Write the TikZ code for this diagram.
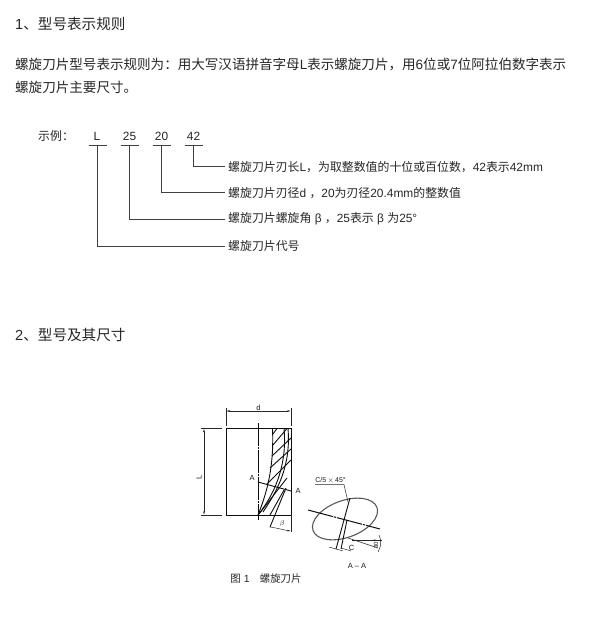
\documentclass[tikz,border=0pt]{standalone}
\usepackage{fontspec}
\setmainfont{Liberation Sans}
\newfontfamily\cjk{Noto Sans CJK SC}
\newcommand{\zh}[1]{{\cjk #1}}
\newcommand{\fwc}{{\cjk\char"FF0C\relax}}
\newcommand{\fwk}{{\cjk\char"FF1A\relax}}
\usetikzlibrary{arrows.meta}
\tikzset{
  heading/.style={anchor=west,inner sep=0pt,font=\fontsize{14.6}{16}\selectfont,text=black!85},
  bodytxt/.style={anchor=west,inner sep=0pt,font=\fontsize{13.55}{16}\selectfont,text=black!85},
  smalltxt/.style={anchor=west,inner sep=0pt,font=\fontsize{11.9}{13}\selectfont,text=black!85},
  tiny/.style={inner sep=0pt,font=\fontsize{7.5}{8}\selectfont,text=black!90},
  leader/.style={line width=1pt,draw=black!75},
  fine/.style={line width=0.5pt,draw=black!85},
  outline/.style={line width=1pt,draw=black!95},
  hatchline/.style={line width=0.9pt,draw=black!95},
  dim/.style={fine,{Latex[length=3.5pt,width=1.8pt]}-{Latex[length=3.5pt,width=1.8pt]}}
}
\begin{document}
\begin{tikzpicture}[x=1pt,y=-1pt]
\useasboundingbox (0,0) rectangle (609,620);
\node[heading] (h1) at (15,24) {1\zh{、型号表示规则}};
\node[bodytxt] (p1) at (15,64) {\zh{螺旋刀片型号表示规则为}\fwk\zh{用大写汉语拼音字母}L\zh{表示螺旋刀片}\fwc\zh{用}6\zh{位或}7\zh{位阿拉伯数字表示}};
\node[bodytxt] (p2) at (15,87) {\zh{螺旋刀片主要尺寸。}};
\node[smalltxt] (ex) at (38,136) {\zh{示例}\fwk};
\node[smalltxt,anchor=center] (cL) at (97,136) {L};
\node[smalltxt,anchor=center] (c25) at (129.5,136) {25};
\node[smalltxt,anchor=center] (c20) at (161.5,136) {20};
\node[smalltxt,anchor=center] (c42) at (193.5,136) {42};
\node[smalltxt] (t42) at (228,167) {\zh{螺旋刀片刃长}L\fwc\zh{为取整数值的十位或百位数}\fwc 42\zh{表示}42mm};
\node[smalltxt] (t20) at (228,193) {\zh{螺旋刀片刃径}d \fwc 20\zh{为刃径}20.4mm\zh{的整数值}};
\node[smalltxt] (t25) at (228,219) {\zh{螺旋刀片螺旋角} β \fwc 25\zh{表示} β \zh{为}25°};
\node[smalltxt] (tL) at (228,246) {\zh{螺旋刀片代号}};
\coordinate (b42) at (193.5,146); \coordinate (b20) at (161.5,146);
\coordinate (b25) at (129.5,146); \coordinate (bL) at (97.5,146);
\foreach \c in {b42,b20,b25,bL} \draw[leader] ([xshift=-9pt]\c) -- ([xshift=9pt]\c);
\draw[leader] (b42) |- ([xshift=-3pt]t42.west);
\draw[leader] (b20) |- ([xshift=-3pt]t20.west);
\draw[leader] (b25) |- ([xshift=-3pt]t25.west);
\draw[leader] (bL) |- ([xshift=-3pt]tL.west);
\node[heading] (h2) at (15,335) {2\zh{、型号及其尺寸}};
% side view
\draw[outline] (226,428.5) rectangle (291,515);
\draw[outline,dash pattern=on 23pt off 1pt on 2pt off 1pt] (258,423) -- (258,520);
\draw[dim] (226,411) -- (291,411);
\node[tiny] (dd) at (258.5,408) {d};
\draw[fine] (226,408) -- (226,426) (291,408) -- (291,426);
\draw[dim] (204,428.5) -- (204,515);
\draw[fine] (201,428.5) -- (222,428.5) (201,515) -- (222,515);
\node[tiny,rotate=90] (dL) at (199,477) {L};
% flute
\draw[hatchline] (258,515) .. controls (268,490) and (274,465) .. (272.5,428.5);
\draw[hatchline] (258,515) .. controls (278,490) and (287,460) .. (284,428.5);
\draw[hatchline] (263,512) .. controls (278,490) and (291,465) .. (288,428.5);
\draw[hatchline] (277,428.5) -- (273,434);
\draw[hatchline] (287,428.5) -- (273,445);
\draw[hatchline] (291,438) -- (272,456);
\draw[hatchline] (291,449) -- (270,468);
\draw[hatchline] (291,460) -- (267,484);
\draw[hatchline] (287,478) -- (259,514);
\draw[hatchline] (284,490) -- (270,515);
\draw[hatchline] (286,488) -- (270,527);
\draw[hatchline] (258,482) -- (291,491);
\node[tiny] (A1) at (252,478) {A};
\node[tiny] (A2) at (298,491) {A};
% beta
\draw[fine] (291,515) -- (291,532);
\draw[fine,-{Latex[length=3.5pt,width=1.8pt]}] (270,527) .. controls (277,528) and (284,530) .. (291,531);
\node[tiny] (beta) at (282,523.5) {$\beta$};
% section
\draw[line width=1.1pt,draw=black!65,rotate around={20:(345,519)}] (345,519) ellipse (34 and 18.4);
\draw[outline,dash pattern=on 26pt off 1pt on 2pt off 1pt] (308,510) -- (380,529);
\draw[hatchline] (350,498) -- (336,549);
\draw[hatchline] (347,520) -- (341,549);
\draw[fine] (315,484.5) -- (344,484.5) -- (348,502);
\node[tiny,font=\fontsize{7}{8}\selectfont] (ct) at (330.5,480.5) {C/5$\,\times\,$45°};
\draw[fine] (329,547) -- (343,551);
\draw[fine] (341,548) -- (351,551);
\node[tiny] (c) at (351.5,548) {C};
\draw[fine] (348,538) -- (378,548);
\draw[fine] (352,540) -- (382,540);
\draw[fine] (379,535) .. controls (382,541) and (381,547) .. (378,552);
\node[tiny,font=\fontsize{6}{7}\selectfont,rotate=90] (ang) at (376,544) {30°};
\node[tiny] (aa) at (357,565.5) {A -- A};
\node[smalltxt,font=\fontsize{10.4}{11}\selectfont,anchor=center] (fig) at (266,579) {\zh{图} 1\quad\zh{螺旋刀片}};
\end{tikzpicture}
\end{document}
